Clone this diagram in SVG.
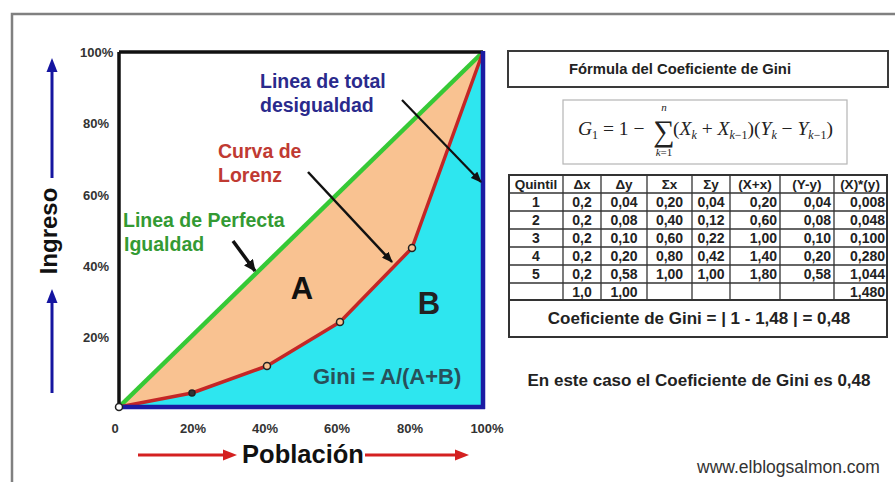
<svg xmlns="http://www.w3.org/2000/svg" width="895" height="482" viewBox="0 0 895 482">
<style>
.b{font-family:"Liberation Sans",Arial,sans-serif;font-weight:bold}
.tick{font-family:"Liberation Sans",Arial,sans-serif;font-weight:bold;font-size:13px;fill:#333}
.lbl{font-family:"Liberation Sans",Arial,sans-serif;font-weight:bold;font-size:19.5px}
.th{font-family:"Liberation Sans",Arial,sans-serif;font-weight:bold;font-size:13.5px;fill:#222;text-anchor:middle}
.td{font-family:"Liberation Sans",Arial,sans-serif;font-weight:bold;font-size:14px;fill:#222}
.c{text-anchor:middle}
.e{text-anchor:end}
.grid{stroke:#333;stroke-width:1.3}
.m{font-family:"Liberation Serif","Times New Roman",serif;fill:#222}
.it{font-style:italic}
.conn{stroke:#111;fill:none}
.dot{stroke:#222;stroke-width:1.5}
</style>
<defs>
<marker id="ah" markerUnits="userSpaceOnUse" markerWidth="11" markerHeight="9" refX="10" refY="4.5" orient="auto">
<path d="M0,0 L11,4.5 L0,9 z" fill="#111"/>
</marker>
<marker id="ah2" markerUnits="userSpaceOnUse" markerWidth="12" markerHeight="11" refX="11" refY="5.5" orient="auto">
<path d="M0,0 L12,5.5 L0,11 z" fill="#111"/>
</marker>
</defs>
<rect x="0" y="0" width="895" height="482" fill="#fff"/>
<rect id="frame" x="12" y="14" width="895" height="480" fill="none" stroke="#808080" stroke-width="2.5"/>

<g id="chart">
<rect x="119" y="52" width="364" height="355" fill="#fff"/>
<polygon id="areaA" points="119,407 483,52 412,248 340,322 267,366 192,393" fill="#F9C291"/>
<polygon id="areaB" points="119,407 192,393 267,366 340,322 412,248 483,52 483,407" fill="#2EE6EF"/>
<line x1="119" y1="407" x2="483" y2="52" stroke="#36C936" stroke-width="4.5"/>
<polyline points="119,407 192,393 267,366 340,322 412,248 483,52" fill="none" stroke="#C42626" stroke-width="3.5" stroke-linejoin="round"/>
<line x1="119" y1="52" x2="483" y2="52" stroke="#111" stroke-width="3.5"/>
<line x1="119" y1="52" x2="119" y2="407" stroke="#111" stroke-width="3.5"/>
<line x1="483" y1="51" x2="483" y2="409" stroke="#1B1BA3" stroke-width="4.5"/>
<line x1="119" y1="407" x2="485" y2="407" stroke="#1B1BA3" stroke-width="4.5"/>
<circle class="dot" cx="192" cy="393" r="3" fill="#333"/>
<circle class="dot" cx="267" cy="366" r="3.5" fill="#F9C291"/>
<circle class="dot" cx="340" cy="322" r="3.5" fill="#F9C291"/>
<circle class="dot" cx="412" cy="248" r="3.5" fill="#F9C291"/>
<circle class="dot" cx="119" cy="407" r="3.5" fill="#fff"/>
</g>

<g id="connectors">
<line class="conn" x1="402" y1="100" x2="481" y2="182" stroke-width="2.2" marker-end="url(#ah)"/>
<line class="conn" x1="308" y1="172" x2="392" y2="262" stroke-width="2.5" marker-end="url(#ah)"/>
<line class="conn" x1="233" y1="241" x2="255" y2="271" stroke-width="3.5" marker-end="url(#ah2)"/>
</g>

<g id="label-total">
<text class="lbl" x="260" y="88" fill="#2A2A8C">Linea de total</text>
<text class="lbl" x="260" y="112" fill="#2A2A8C">desigualdad</text>
</g>
<g id="label-lorenz">
<text class="lbl" x="218" y="158" fill="#C03A32">Curva de</text>
<text class="lbl" x="218" y="182" fill="#C03A32">Lorenz</text>
</g>
<g id="label-igualdad">
<text class="lbl" x="123" y="227" fill="#339A33">Linea de Perfecta</text>
<text class="lbl" x="124" y="251" fill="#339A33">Igualdad</text>
</g>
<g id="label-A"><text class="b" x="302" y="299" font-size="31" text-anchor="middle" fill="#111">A</text></g>
<g id="label-B"><text class="b" x="429" y="314" font-size="31" text-anchor="middle" fill="#222">B</text></g>
<g id="label-gini"><text class="b" x="313" y="384" font-size="22" fill="#28505A">Gini = A/(A+B)</text></g>

<g id="y-axis">
<text class="tick" x="80" y="56.5">100%</text>
<text class="tick" x="83" y="128">80%</text>
<text class="tick" x="83" y="199.5">60%</text>
<text class="tick" x="83" y="270.5">40%</text>
<text class="tick" x="83" y="341.5">20%</text>
<text class="b" transform="translate(57,231) rotate(-90)" font-size="24" text-anchor="middle" fill="#111">Ingreso</text>
<line x1="52" y1="178" x2="52" y2="70" stroke="#1515A0" stroke-width="3"/>
<polygon points="52,58 46.5,72 57.5,72" fill="#1515A0"/>
<line x1="52" y1="393" x2="52" y2="300" stroke="#1515A0" stroke-width="3"/>
<polygon points="52,289 46.5,303 57.5,303" fill="#1515A0"/>
</g>

<g id="x-axis">
<text class="tick c" x="115" y="432.5">0</text>
<text class="tick c" x="193" y="432.5">20%</text>
<text class="tick c" x="265" y="432.5">40%</text>
<text class="tick c" x="337" y="432.5">60%</text>
<text class="tick c" x="410" y="432.5">80%</text>
<text class="tick c" x="487" y="432.5">100%</text>
<text class="b" x="303" y="463" font-size="25.5" text-anchor="middle" fill="#111">Población</text>
<line x1="138" y1="455" x2="225" y2="455" stroke="#D42020" stroke-width="3"/>
<polygon points="237,455 223,449.5 223,460.5" fill="#D42020"/>
<line x1="365" y1="455" x2="457" y2="455" stroke="#D42020" stroke-width="3"/>
<polygon points="469,455 455,449.5 455,460.5" fill="#D42020"/>
</g>

<g id="title-box">
<rect x="508" y="51" width="380" height="36" fill="#fff" stroke="#3a3a3a" stroke-width="2"/>
<text class="b" x="569" y="74" font-size="14.8" fill="#222">Fórmula del Coeficiente de Gini</text>
</g>

<g id="formula">
<rect x="563" y="100" width="284" height="64" fill="#fff" stroke="#b5b5b5" stroke-width="1.2"/>
<text class="m" x="578" y="135" font-size="19.5"><tspan class="it">G</tspan><tspan font-size="12" dy="4">1</tspan><tspan dy="-4"> = 1 − </tspan></text>
<text class="m" x="664" y="141" font-size="30" text-anchor="middle">∑</text>
<text class="m it" x="664" y="111" font-size="11" text-anchor="middle">n</text>
<text class="m" x="664" y="156" font-size="11" text-anchor="middle"><tspan font-style="italic">k</tspan>=1</text>
<text class="m" x="673" y="135" font-size="19.5">(<tspan class="it">X</tspan><tspan class="it" font-size="12" dy="4">k</tspan><tspan dy="-4"> + </tspan><tspan class="it">X</tspan><tspan font-size="12" dy="4"><tspan font-style="italic">k</tspan>−1</tspan><tspan dy="-4">)(</tspan><tspan class="it">Y</tspan><tspan class="it" font-size="12" dy="4">k</tspan><tspan dy="-4"> − </tspan><tspan class="it">Y</tspan><tspan font-size="12" dy="4"><tspan font-style="italic">k</tspan>−1</tspan><tspan dy="-4">)</tspan></text>
</g>

<g id="table">
<rect x="509" y="175" width="378" height="162" fill="#fff" stroke="#333" stroke-width="2"/>
<g class="grid">
<line x1="509" y1="193" x2="887" y2="193"/>
<line x1="509" y1="211" x2="887" y2="211"/>
<line x1="509" y1="229" x2="887" y2="229"/>
<line x1="509" y1="247" x2="887" y2="247"/>
<line x1="509" y1="265" x2="887" y2="265"/>
<line x1="509" y1="283" x2="887" y2="283"/>
<line x1="509" y1="300" x2="887" y2="300" stroke-width="1.8"/>
<line x1="563" y1="175" x2="563" y2="300"/>
<line x1="601" y1="175" x2="601" y2="300"/>
<line x1="647" y1="175" x2="647" y2="300"/>
<line x1="692" y1="175" x2="692" y2="300"/>
<line x1="730" y1="175" x2="730" y2="300"/>
<line x1="780" y1="175" x2="780" y2="300"/>
<line x1="834" y1="175" x2="834" y2="300"/>
</g>
<text class="th" x="536" y="189">Quintil</text>
<text class="th" x="582" y="189">Δx</text>
<text class="th" x="624" y="189">Δy</text>
<text class="th" x="669.5" y="189">Σx</text>
<text class="th" x="711" y="189">Σy</text>
<text class="th" x="755" y="189">(X+x)</text>
<text class="th" x="807" y="189">(Y-y)</text>
<text class="th" x="860" y="189">(X)*(y)</text>

<text class="td c" x="536" y="207">1</text><text class="td c" x="582" y="207">0,2</text><text class="td c" x="624" y="207">0,04</text><text class="td c" x="669.5" y="207">0,20</text><text class="td c" x="711" y="207">0,04</text><text class="td e" x="777" y="207">0,20</text><text class="td e" x="831" y="207">0,04</text><text class="td e" x="885" y="207">0,008</text>
<text class="td c" x="536" y="225">2</text><text class="td c" x="582" y="225">0,2</text><text class="td c" x="624" y="225">0,08</text><text class="td c" x="669.5" y="225">0,40</text><text class="td c" x="711" y="225">0,12</text><text class="td e" x="777" y="225">0,60</text><text class="td e" x="831" y="225">0,08</text><text class="td e" x="885" y="225">0,048</text>
<text class="td c" x="536" y="243">3</text><text class="td c" x="582" y="243">0,2</text><text class="td c" x="624" y="243">0,10</text><text class="td c" x="669.5" y="243">0,60</text><text class="td c" x="711" y="243">0,22</text><text class="td e" x="777" y="243">1,00</text><text class="td e" x="831" y="243">0,10</text><text class="td e" x="885" y="243">0,100</text>
<text class="td c" x="536" y="261">4</text><text class="td c" x="582" y="261">0,2</text><text class="td c" x="624" y="261">0,20</text><text class="td c" x="669.5" y="261">0,80</text><text class="td c" x="711" y="261">0,42</text><text class="td e" x="777" y="261">1,40</text><text class="td e" x="831" y="261">0,20</text><text class="td e" x="885" y="261">0,280</text>
<text class="td c" x="536" y="279">5</text><text class="td c" x="582" y="279">0,2</text><text class="td c" x="624" y="279">0,58</text><text class="td c" x="669.5" y="279">1,00</text><text class="td c" x="711" y="279">1,00</text><text class="td e" x="777" y="279">1,80</text><text class="td e" x="831" y="279">0,58</text><text class="td e" x="885" y="279">1,044</text>
<text class="td c" x="582" y="296.5">1,0</text><text class="td c" x="624" y="296.5">1,00</text><text class="td e" x="885" y="296.5">1,480</text>

<text class="b" x="699" y="324" font-size="17" text-anchor="middle" fill="#222">Coeficiente de Gini = | 1 - 1,48 | = 0,48</text>
</g>

<g id="conclusion"><text class="b" x="699" y="386" font-size="17" text-anchor="middle" fill="#222">En este caso el Coeficiente de Gini es 0,48</text></g>
<g id="credit"><text x="697" y="473" font-family="Liberation Sans, Arial, sans-serif" font-size="17.5" fill="#333">www.elblogsalmon.com</text></g>
</svg>
